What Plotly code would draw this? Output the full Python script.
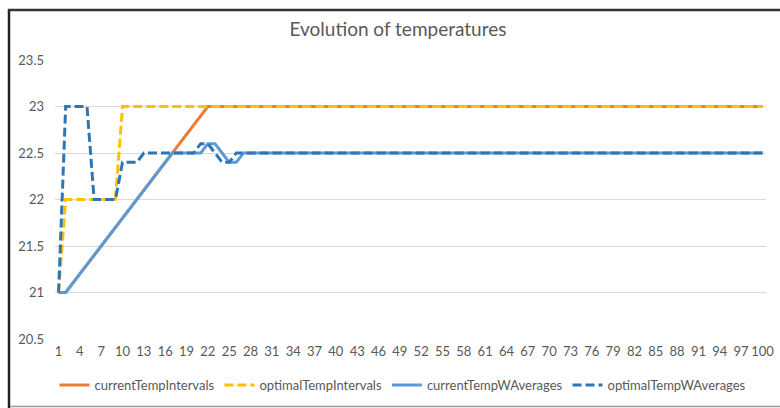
import plotly.graph_objects as go

steps = list(range(1, 101))

current_temp_intervals = (
    [21.0, 21.0, 21.1, 21.2, 21.3, 21.4, 21.5, 21.6, 21.7, 21.8, 21.9, 22.0, 22.1, 22.2, 22.3, 22.4, 22.5,
     22.6, 22.7, 22.8, 22.9, 23.0] + [23.0] * 78
)
optimal_temp_intervals = [21.0] + [22.0] * 8 + [23.0] * 91
current_temp_waverages = (
    [21.0, 21.0, 21.1, 21.2, 21.3, 21.4, 21.5, 21.6, 21.7, 21.8, 21.9, 22.0, 22.1, 22.2, 22.3, 22.4, 22.5,
     22.5, 22.5, 22.5, 22.5, 22.6, 22.6, 22.5, 22.4, 22.4] + [22.5] * 74
)
optimal_temp_waverages = (
    [21.0, 23.0, 23.0, 23.0, 23.0, 22.0, 22.0, 22.0, 22.0, 22.4, 22.4, 22.4,
     22.5, 22.5, 22.5, 22.5, 22.5, 22.5, 22.5, 22.5, 22.6, 22.6, 22.5, 22.4, 22.4] + [22.5] * 75
)

x_ticks = list(range(1, 101, 3))
y_ticks = [20.5, 21, 21.5, 22, 22.5, 23, 23.5]
y_tick_text = ["20.5", "21", "21.5", "22", "22.5", "23", "23.5"]

series = [
    ("currentTempIntervals", current_temp_intervals, "#ED7D31", "solid"),
    ("optimalTempIntervals", optimal_temp_intervals, "#FFC000", "9px,4px"),
    ("currentTempWAverages", current_temp_waverages, "#5B9BD5", "solid"),
    ("optimalTempWAverages", optimal_temp_waverages, "#2E75B6", "9px,4px"),
]

fig = go.Figure()
for name, vals, color, dash in series:
    fig.add_trace(go.Scatter(
        x=steps, y=vals, mode="lines", name=name,
        line=dict(color=color, width=3, dash=dash),
    ))

W, H = 780, 408
L, R, T, B = 55, 766, 60, 339


def px(p):
    return (p - L) / (R - L)


def py(q):
    return (B - q) / (B - T)


font_family = "Lato, 'Liberation Sans', sans-serif"
fig.update_layout(
    width=W, height=H,
    margin=dict(l=L, r=W - R, t=T, b=H - B, pad=0, autoexpand=False),
    paper_bgcolor="white", plot_bgcolor="white",
    font=dict(family=font_family, color="#595959", size=13),
    title=dict(text="Evolution of temperatures", x=398 / W, xanchor="center",
               y=1 - 29 / H, yanchor="middle", yref="container", automargin=False,
               font=dict(size=19, color="#595959", family=font_family)),
    showlegend=True,
    legend=dict(orientation="h", x=403 / W, xanchor="center", xref="container",
                y=1 - 385 / H, yanchor="middle", yref="container",
                font=dict(size=13, color="#595959"), itemwidth=30, bgcolor="rgba(0,0,0,0)"),
    xaxis=dict(range=[0.5, 100.5], tickmode="array", tickvals=x_ticks, showgrid=False,
               zeroline=False, showline=False, ticks="", ticklabelstandoff=3, automargin=False,
               tickfont=dict(size=13, color="#595959")),
    yaxis=dict(range=[20.5, 23.5], tickmode="array", tickvals=y_ticks, ticktext=y_tick_text,
               showgrid=True, gridcolor="#D9D9D9", gridwidth=1, zeroline=False, automargin=False,
               showline=False, ticks="", ticklabelstandoff=10,
               tickfont=dict(size=13, color="#595959")),
    shapes=[
        dict(type="line", xref="paper", yref="paper", x0=px(9), x1=px(9), y0=py(9), y1=py(408),
             line=dict(color="#222222", width=2.5)),
        dict(type="line", xref="paper", yref="paper", x0=px(8), x1=px(780), y0=py(10), y1=py(10),
             line=dict(color="#333333", width=2.5)),
        dict(type="line", xref="paper", yref="paper", x0=px(10), x1=px(780), y0=py(406.5), y1=py(406.5),
             line=dict(color="#9a9a9a", width=1.5)),
    ],
)

fig.write_html(
    "out.html",
    config={"displayModeBar": False},
    post_script="document.body.style.margin='0';document.body.style.overflow='hidden';",
)
